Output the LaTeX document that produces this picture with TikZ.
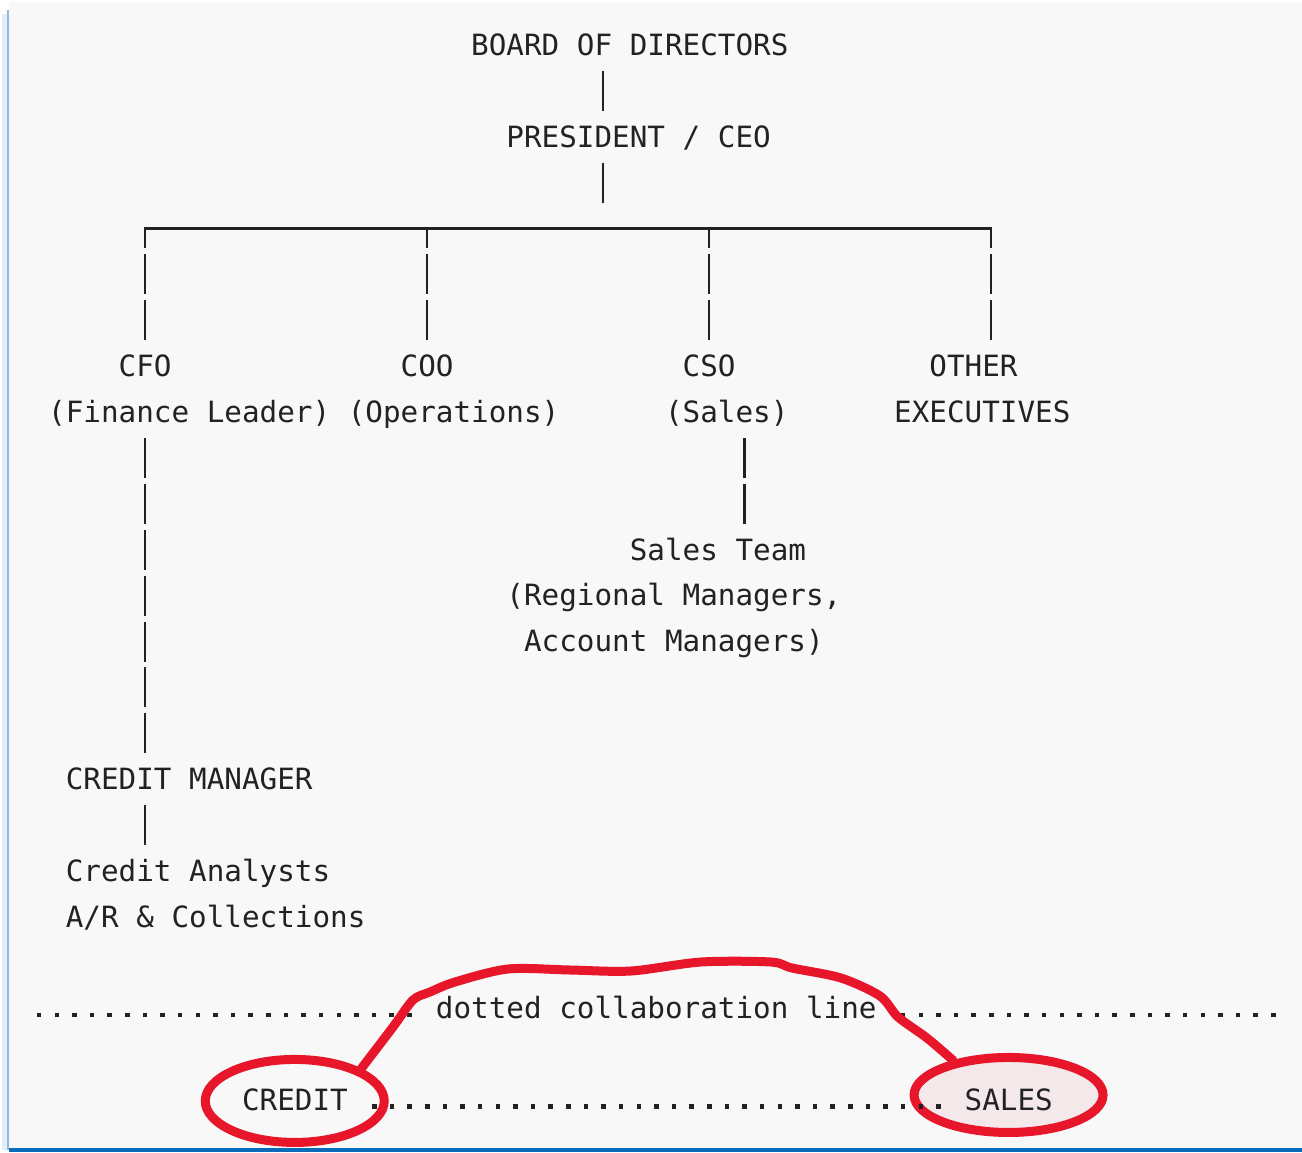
\documentclass[tikz,border=0pt]{standalone}
\usepackage{fontspec}
\setmonofont{DejaVu Sans Mono}
\usetikzlibrary{shapes.geometric,shadows}

\definecolor{paper}{HTML}{F8F8F8}
\definecolor{ink}{HTML}{222222}
\definecolor{redpen}{HTML}{E8162A}
\definecolor{blush}{HTML}{F4E8EA}
\definecolor{frameblue}{HTML}{0B6BB8}

\newcommand{\chartfont}{\ttfamily\fontsize{29.275pt}{35pt}\selectfont}
\def\colw{17.625pt}

\tikzset{
  txt/.style={font=\chartfont, text=ink, inner sep=0pt, anchor=west,
    text height=33.435pt, text depth=12.435pt},
  bar/.style={draw=ink, line width=2.6pt, dash pattern=on 40pt off 5.87pt, dash phase=42.935pt},
  drop/.style={bar, dash phase=20pt},
  rule/.style={draw=ink, line width=2.6pt, line cap=rect},
  dotrow/.style={draw=ink, line width=4.5pt, dash pattern=on 4.5pt off 13.125pt, dash phase=11.0625pt},
  ring/.style={ellipse, draw=redpen, line width=9pt, inner sep=0pt},
  scribble/.style={draw=redpen, line width=9pt, line cap=round, line join=round},
  pxgrid/.style={x=1pt, y=-1pt, shift={(-48pt,45pt)}}
}

\begin{document}
\begin{tikzpicture}[x=17.625pt, y=-45.87pt]
    % Page and frame
    \begin{scope}[pxgrid]
        \useasboundingbox (0,0) rectangle (1302,1152);
        \fill[white] (0,0) rectangle (1302,1152);
        \fill[paper] (9,2) rectangle (1302,1148);
        \draw[frameblue!12, line width=6pt] (5,14) -- (5,1150);
        \draw[frameblue!45, line width=2pt] (8,10) -- (8,1150);
        \fill[frameblue] (9,1148) rectangle (1302,1152);
    \end{scope}

    % Circle the two ends
    \node[ring, minimum width=179pt, minimum height=83pt] (creditring) at (14,23.02) {};
    \node[ring, fill=blush, minimum width=189pt, minimum height=75pt,
        drop shadow={opacity=0.18, shadow xshift=2pt, shadow yshift=-3pt}] (salesring) at (54.5,22.89) {};

    % Label the levels
    \node[txt] (board) at (24,0) {BOARD OF DIRECTORS};
    \node[txt] (president) at (26,2) {PRESIDENT / CEO};
    \node[txt] (cfo) at (4,7) {CFO};
    \node[txt] (coo) at (20,7) {COO};
    \node[txt] (cso) at (36,7) {CSO};
    \node[txt] (other) at (50,7) {OTHER};
    \node[txt] (finance) at (0,8) {(Finance Leader)};
    \node[txt] (operations) at (17,8) {(Operations)};
    \node[txt] (sales) at (35,8) {(Sales)};
    \node[txt] (execs) at (48,8) {EXECUTIVES};
    \node[txt] (salesteam) at (33,11) {Sales Team};
    \node[txt] (regional) at (26,12) {(Regional Managers,};
    \node[txt] (account) at (27,13) {Account Managers)};
    \node[txt] (creditmgr) at (1,16) {CREDIT MANAGER};
    \node[txt] (analysts) at (1,18) {Credit Analysts};
    \node[txt] (collections) at (1,19) {A/R \& Collections};
    \node[txt] (collab) at (22,21) {dotted collaboration line};
    \node[txt] (credit) at (11,23) {CREDIT};
    \node[txt] (salesend) at (52,23) {SALES};

    % Define the branch points
    \coordinate (spine) at (31.5,4);
    \coordinate (lstart) at (-1,21);
    \coordinate (rstop) at (70,21);

    % Draw the reporting lines
    \draw[bar] (board.south -| spine) -- (president.north -| spine);
    \draw[bar, shorten >=22.935pt] (president.south -| spine) -- (spine);
    \draw[rule] (cfo.north |- spine) -- ([xshift=\colw]other.north |- spine);
    \foreach \who in {cfo,coo,cso}
        \draw[drop] (\who.north |- spine) -- (\who.north);
    \draw[drop] ([xshift=\colw]other.north |- spine) -- ([xshift=\colw]other.north);
    \draw[bar] (finance.south -| cfo) -- (creditmgr.north -| cfo);
    \draw[bar] (creditmgr.south -| cfo) -- (analysts.north -| cfo);
    \draw[bar] ([xshift=\colw]sales.south) -- ([xshift=\colw]sales.south |- salesteam.north);

    % Draw the dotted lines
    \draw[dotrow] ([yshift=-6.5pt]lstart) -- ([xshift=-\colw, yshift=-6.5pt]collab.west);
    \draw[dotrow] ([xshift=\colw, yshift=-6.5pt]collab.east) -- ([yshift=-6.5pt]rstop);
    \draw[dotrow] ([xshift=\colw, yshift=-6.5pt]credit.east) -- ([xshift=-\colw, yshift=-6.5pt]salesend.west);

    % Mark the link between the rings
    \begin{scope}[pxgrid]
        \draw[scribble] plot[smooth, tension=0.5] coordinates {(creditring.26) (393,1027) (413,1000)
            (430,992) (455,982) (508,969) (570,970) (631,971) (701,962) (771,962) (792,968)
            (841,978) (880,996) (898,1017) (927,1038) (salesring.148)};
    \end{scope}

\end{tikzpicture}
\end{document}
